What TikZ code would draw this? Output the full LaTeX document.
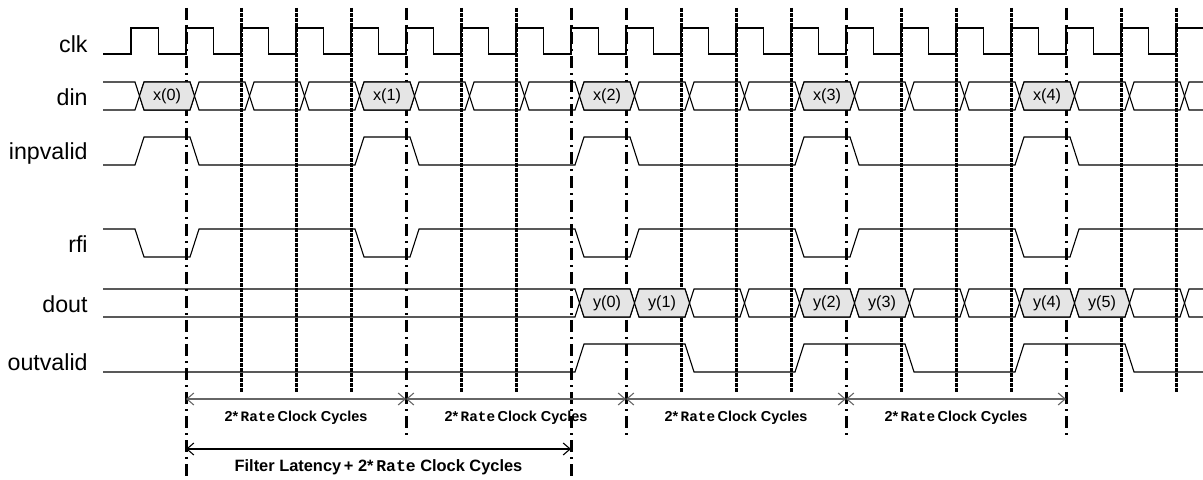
\documentclass[tikz,border=0pt]{standalone}
\usepackage{fontspec}
\setmainfont{Liberation Sans}
\setmonofont{Liberation Mono}
\usetikzlibrary{arrows.meta}

\begin{document}
\begin{tikzpicture}[x=0.5pt,y=-0.5pt,
		wave/.style={line width=0.55pt},
		shade/.style={wave,fill=gray!20},
		dashdot/.style={line width=1.5pt,dash pattern=on 6pt off 2.5pt on 1pt off 2.5pt},
		dotline/.style={line width=1.5pt,dash pattern=on 0.8pt off 0.45pt},
		dim/.style={line width=0.55pt,{Straight Barb[length=3.5pt,width=6pt]}-{Straight Barb[length=3.5pt,width=6pt]}},
		siglbl/.style={anchor=base east,inner sep=0pt,font=\fontsize{11.6}{14}\selectfont},
		buslbl/.style={inner sep=0pt,font=\fontsize{8.1}{10}\selectfont},
		cyclbl/.style={anchor=base,inner sep=0pt,yshift=-11pt,font=\fontsize{7.2}{9}\selectfont\bfseries}]
		\useasboundingbox (0,0) rectangle (1203,480);

		\foreach \k in {2,3,4,6,7,10,11,12,14,15,16,18,19}
			\draw[dotline] ({131+55*\k},8) -- ({131+55*\k},392);
		\foreach \k/\e in {1/478,5/435,8/478,9/435,13/435,17/435}
			\draw[dashdot] ({131+55*\k},8) -- ({131+55*\k},\e);

		\node[siglbl] (clk) at (88,53) {clk};
		\node[siglbl] (din) at (88,106) {din};
		\node[siglbl] (inpvalid) at (88,160) {inpvalid};
		\node[siglbl] (rfi) at (88,253) {rfi};
		\node[siglbl] (dout) at (88,313) {dout};
		\node[siglbl] (outvalid) at (88,371) {outvalid};

		\draw[wave] (103,54) \foreach \k in {0,...,19} {-- ({131+55*\k},54) -- ++(0,-26) -- ++(27.5,0) -- ++(0,26)};

		\draw[wave] (103,82) -- (135,82) -- (139.5,96) -- (135,110) -- (103,110);
		\foreach \k in {0,...,19}
			\draw[wave] ({139.5+55*\k},96) -- ++(4.5,-14) -- ++(46,0) -- ++(4.5,14) -- ++(-4.5,14) -- ++(-46,0) -- cycle;
		\foreach \k/\t in {0/0,4/1,8/2,12/3,16/4}
			\draw[shade] ({139.5+55*\k},96) -- ++(4.5,-14) -- ++(46,0) -- ++(4.5,14) -- ++(-4.5,14) -- ++(-46,0) -- cycle
				({167+55*\k},96) node[buslbl] (x\t) {x(\t)};

		\draw[wave] (103,165) \foreach \k in {0,4,8,12,16} {-- ({135+55*\k},165) -- ++(9,-28) -- ({190+55*\k},137) -- ++(9,28)} -- (1203,165);
		\draw[wave] (103,229) \foreach \k in {0,4,8,12,16} {-- ({135+55*\k},229) -- ++(9,28) -- ({190+55*\k},257) -- ++(9,-28)} -- (1203,229);

		\draw[wave] (103,289) -- (575,289) -- (579.5,303) -- (575,317) -- (103,317);
		\foreach \k in {8,...,19}
			\draw[wave] ({139.5+55*\k},303) -- ++(4.5,-14) -- ++(46,0) -- ++(4.5,14) -- ++(-4.5,14) -- ++(-46,0) -- cycle;
		\foreach \k/\t in {8/0,9/1,12/2,13/3,16/4,17/5}
			\draw[shade] ({139.5+55*\k},303) -- ++(4.5,-14) -- ++(46,0) -- ++(4.5,14) -- ++(-4.5,14) -- ++(-46,0) -- cycle
				({167+55*\k},303) node[buslbl] (y\t) {y(\t)};

		\draw[wave] (103,372) \foreach \k in {8,12,16} {-- ({135+55*\k},372) -- ++(9,-28) -- ({245+55*\k},344) -- ++(9,28)} -- (1203,372);

		\foreach \k in {1,5,9,13,17}
			\coordinate (m\k) at ({131+55*\k},399);
		\coordinate (lat0) at (186,449);
		\coordinate (lat1) at (571,449);
		\foreach \a/\b in {1/5,5/9,9/13,13/17}
			\draw[dim,gray!80!black] (m\a) -- (m\b) node[cyclbl,midway,text=black] (cyc\a) {2*\,\texttt{Rate}\,Clock Cycles};
		\draw[dim] (lat0) -- (lat1) node[cyclbl,midway,font=\fontsize{8.2}{10}\selectfont\bfseries] (latency) {Filter Latency\,+ 2*\,\texttt{Rate} Clock Cycles};
	\end{tikzpicture}
\end{document}
